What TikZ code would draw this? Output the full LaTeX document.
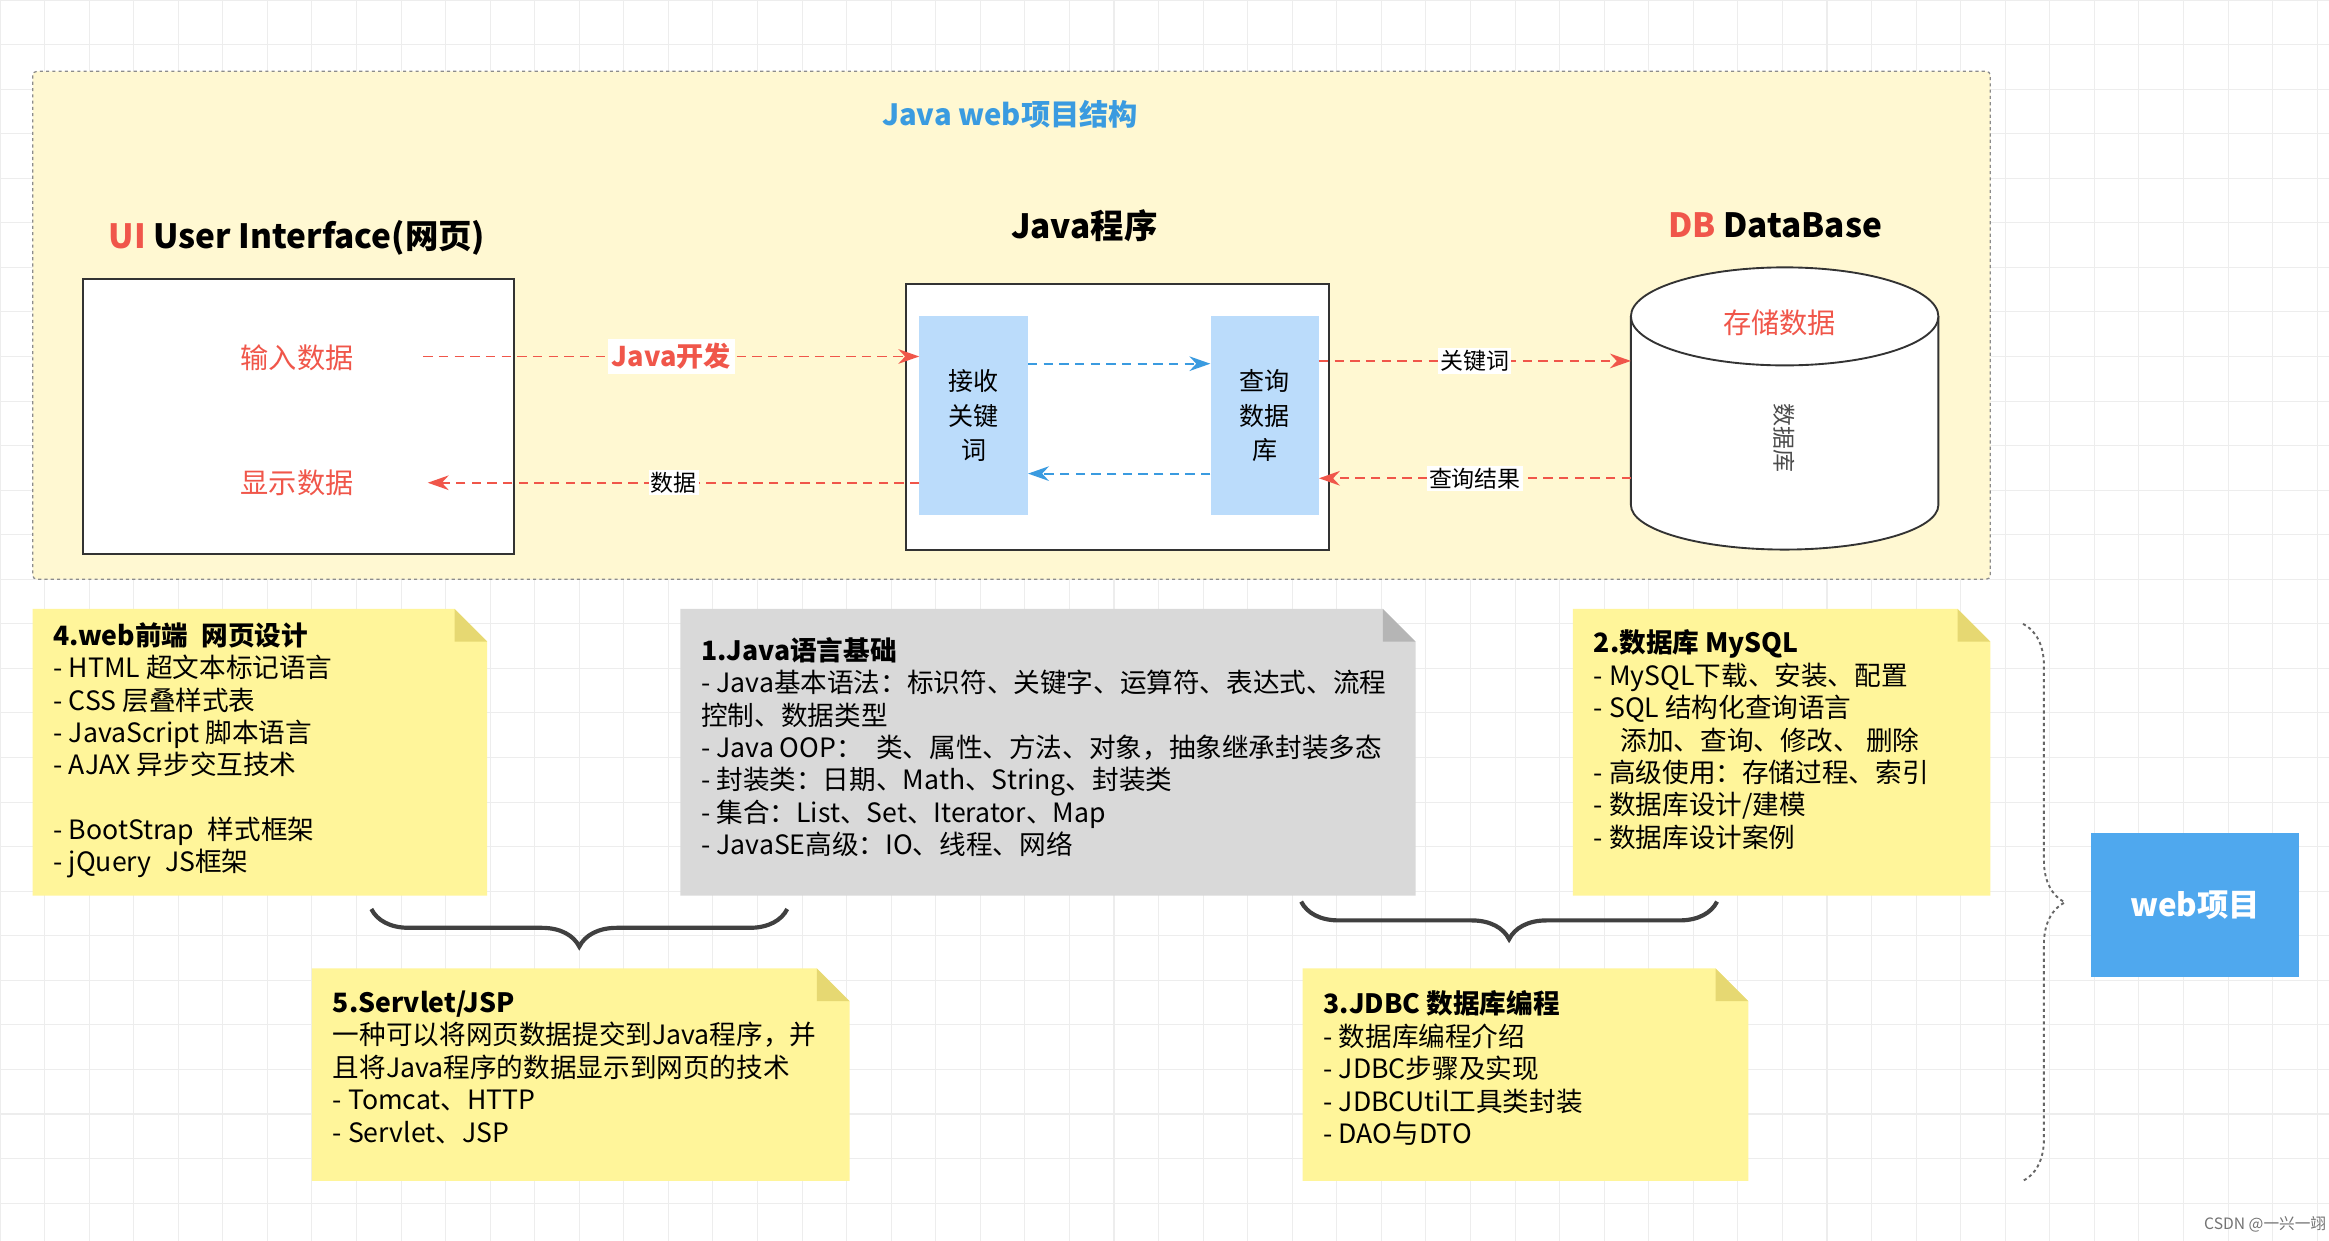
\documentclass[tikz,border=0pt]{standalone}
\usepackage{fontspec}
\setmainfont{Noto Sans CJK SC}
\usetikzlibrary{arrows.meta,decorations.pathreplacing}
\definecolor{cont}{HTML}{FFF8D2}
\definecolor{notey}{HTML}{FFF59A}
\definecolor{foldy}{HTML}{E6D872}
\definecolor{noteg}{HTML}{D9D9D9}
\definecolor{foldg}{HTML}{B5B5B5}
\definecolor{lblue}{HTML}{BBDCFB}
\definecolor{tblue}{HTML}{3A9BE0}
\definecolor{wblue}{HTML}{4FA8EE}
\definecolor{rd}{HTML}{F0564A}
\tikzset{
 reddash/.style={draw=rd,dashed,line width=1.8pt,dash pattern=on 9pt off 6pt,-{Stealth[length=20pt,width=14pt]}},
 bluedash/.style={draw=tblue,dashed,line width=1.8pt,dash pattern=on 9pt off 6pt,-{Stealth[length=20pt,width=14pt]}},
 lbl/.style={fill=white,inner sep=2pt,font=\fontsize{22}{26}\selectfont},
 notetxt/.style={anchor=north west,align=left,inner sep=0pt,font=\fontsize{25.5}{31}\selectfont},
 ttl/.style={font=\fontsize{32}{38}\selectfont\bfseries},
}
\newcommand{\mknote}[6]{% x1,y1,x2,y2,fill,fold
 \fill[#5] (#1,#2) -- ({#3-22},#2) -- (#3,{#2+22}) -- (#3,#4) -- (#1,#4) -- cycle;
 \fill[#6] ({#3-22},#2) -- (#3,{#2+22}) -- ({#3-22},{#2+22}) -- cycle;}
\begin{document}
\begin{tikzpicture}[x=0.05cm,y=-0.05cm]
\useasboundingbox (0,0) rectangle (1568,835.5);
\fill[white] (0,0) rectangle (1568,835.5);
\foreach \i in {0,30,...,1560} \draw[black!7,line width=1pt] (\i,0) -- (\i,835.5);
\foreach \i in {0,30,...,830} \draw[black!7,line width=1pt] (0,\i) -- (1568,\i);
% container
\draw[black!45,dashed,line width=1.2pt,fill=cont,rounded corners=4pt] (22,48) rectangle (1340,390);
\node[font=\fontsize{28}{32}\selectfont\bfseries,text=tblue] (title) at (680,77) {Java web项目结构};
% UI
\node[ttl] (uit) at (200,160) {\textcolor{rd}{UI} User Interface(网页)};
\draw[black!80,fill=white,line width=1.8pt] (56,188) rectangle (346,373);
\node[text=rd,font=\fontsize{27}{30}\selectfont] (in) at (200,241) {输入数据};
\node[text=rd,font=\fontsize{27}{30}\selectfont] (out) at (200,325) {显示数据};
% Java
\node[ttl] (jt) at (730,152) {Java程序};
\draw[black!80,fill=white,line width=1.8pt] (610,191) rectangle (895,370);
\node[fill=lblue,minimum width=73*0.05cm,minimum height=134*0.05cm,align=center,
 font=\fontsize{24}{33}\selectfont] (recv) at (655.5,280) {接收\\关键\\词};
\node[fill=lblue,minimum width=73*0.05cm,minimum height=134*0.05cm,align=center,
 font=\fontsize{24}{33}\selectfont] (qry) at (851.5,280) {查询\\数据\\库};
% DB
\node[ttl] (dbt) at (1195,152) {\textcolor{rd}{DB} DataBase};
\draw[black!80,line width=1.8pt,fill=white] (1098,213) -- (1098,340) arc[start angle=180,end angle=0,x radius=103.5,y radius=30] -- (1305,213);
\draw[black!80,line width=1.8pt,fill=white] (1201.5,213) ellipse[x radius=103.5,y radius=33];
\node[text=rd,font=\fontsize{27}{30}\selectfont] (store) at (1198,217) {存储数据};
\node[rotate=-90,font=\fontsize{22}{26}\selectfont,text=black!70] (dbl) at (1201,295) {数据库};
% arrows
\coordinate (a1) at (285,240);
\draw[reddash] (a1) -- (recv.west|-a1) node[midway,fill=white,inner sep=4pt,text=rd,font=\fontsize{26}{30}\selectfont\bfseries] {Java开发};
\coordinate (a2) at (619,325);
\draw[reddash] (a2) -- (288,325) coordinate (a2e) node[midway,lbl] {数据};
\draw[bluedash] ([yshift=-1.6cm]recv.north east) -- ([yshift=-1.6cm]qry.north west);
\draw[bluedash] ([yshift=-5.3cm]qry.north west) -- ([yshift=-5.3cm]recv.north east);
\coordinate (k1) at (888,243);
\draw[reddash] (k1) -- (1098,243) node[midway,lbl] {关键词};
\coordinate (k2) at (1098,322);
\draw[reddash] (k2) -- (888,322) node[midway,lbl] {查询结果};
% notes
\mknote{22}{410}{328}{603}{notey}{foldy}
\node[notetxt] (n4) at (36,419) {\textbf{4.web前端\enspace 网页设计}\\- HTML 超文本标记语言\\- CSS 层叠样式表\\- JavaScript 脚本语言\\- AJAX 异步交互技术\\[31pt]- BootStrap\enspace 样式框架\\- jQuery\enspace JS框架};
\mknote{458}{410}{953}{603}{noteg}{foldg}
\node[notetxt] (n1) at (472,429) {\textbf{1.Java语言基础}\\- Java基本语法：标识符、关键字、运算符、表达式、流程\\控制、数据类型\\- Java OOP：\enspace 类、属性、方法、对象，抽象继承封装多态\\- 封装类：日期、Math、String、封装类\\- 集合：List、Set、Iterator、Map\\- JavaSE高级：IO、线程、网络};
\mknote{1059}{410}{1340}{603}{notey}{foldy}
\node[notetxt] (n2) at (1073,424) {\textbf{2.数据库 MySQL}\\- MySQL下载、安装、配置\\- SQL 结构化查询语言\\\quad 添加、查询、修改、 删除\\- 高级使用：存储过程、索引\\- 数据库设计/建模\\- 数据库设计案例};
\mknote{210}{652}{572}{795}{notey}{foldy}
\node[notetxt] (n5) at (224,667) {\textbf{5.Servlet/JSP}\\一种可以将网页数据提交到Java程序，并\\且将Java程序的数据显示到网页的技术\\- Tomcat、HTTP\\- Servlet、JSP};
\mknote{877}{652}{1177}{795}{notey}{foldy}
\node[notetxt] (n3) at (891,667) {\textbf{3.JDBC 数据库编程}\\- 数据库编程介绍\\- JDBC步骤及实现\\- JDBCUtil工具类封装\\- DAO与DTO};
% braces
\coordinate (b1s) at (250,612); \coordinate (b1e) at (530,612);
\draw[black!75,line width=4pt,decorate,decoration={brace,amplitude=36pt,aspect=0.5}] (b1e) -- (b1s);
\coordinate (b2s) at (876,607); \coordinate (b2e) at (1156,607);
\draw[black!75,line width=4pt,decorate,decoration={brace,amplitude=36pt}] (b2e) -- (b2s);
\coordinate (b3s) at (1362,420); \coordinate (b3e) at (1362,795);
\draw[black!60,line width=1.8pt,dashed,decorate,decoration={brace,amplitude=40pt}] (b3s) -- (b3e);
\node[fill=wblue,minimum width=140*0.05cm,minimum height=97*0.05cm,text=white,font=\fontsize{30}{34}\selectfont\bfseries] (web) at (1478,609.5) {web项目};
\node[text=black!55,font=\fontsize{15}{18}\selectfont] (wm) at (1525,824) {CSDN @一兴一翊};
\end{tikzpicture}
\end{document}
